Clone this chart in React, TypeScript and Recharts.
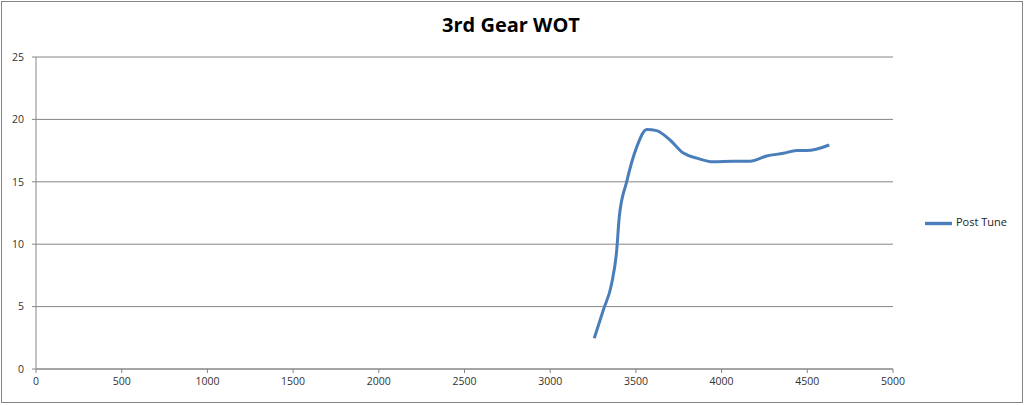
import { CartesianGrid, Legend, Line, LineChart, XAxis, YAxis } from 'recharts'

const rpm = [3257, 3310, 3359, 3388, 3403, 3446, 3505, 3563, 3621, 3699, 3777, 3855, 3952, 4069, 4166, 4263, 4360, 4438, 4497, 4628]
const postTune = [2.46, 4.73, 6.87, 9.5, 12.2, 15.0, 17.8, 19.2, 19.1, 18.35, 17.3, 16.9, 16.6, 16.65, 16.65, 17.07, 17.28, 17.5, 17.5, 17.95]
const xTicks = [0, 500, 1000, 1500, 2000, 2500, 3000, 3500, 4000, 4500, 5000]
const yTicks = [0, 5, 10, 15, 20, 25]

const data = rpm.map((r, i) => ({ rpm: r, postTune: postTune[i] }))

const axisGray = '#868686'
const tickStyle = { fontSize: 10.5, fill: '#333', fontFamily: '"Open Sans", sans-serif' }

export default function App() {
  return (
    <div style={{ position: 'absolute', left: 0, top: 0, width: 1024, height: 405, background: '#fff' }}>
      <div
        style={{
          position: 'absolute',
          left: 1,
          top: 1,
          width: 1020,
          height: 400,
          border: `1px solid ${axisGray}`,
          pointerEvents: 'none',
        }}
      />
      <div
        style={{
          position: 'absolute',
          left: 0,
          top: 11,
          width: 1022,
          textAlign: 'center',
          fontFamily: '"Open Sans", sans-serif',
          fontWeight: 700,
          fontSize: 20,
          color: '#000',
        }}
      >
        3rd Gear WOT
      </div>
      <LineChart width={1024} height={405} data={data} margin={{ top: 57, right: 131, left: 0, bottom: 0 }}>
        <CartesianGrid vertical={false} stroke={axisGray} />
        <XAxis
          dataKey="rpm"
          type="number"
          domain={[0, 5000]}
          ticks={xTicks}
          height={36}
          stroke={axisGray}
          tickSize={4}
          tickMargin={5}
          tick={tickStyle}
          interval={0}
        />
        <YAxis
          type="number"
          domain={[0, 25]}
          ticks={yTicks}
          width={36}
          stroke={axisGray}
          tickSize={4}
          tickMargin={8}
          tick={tickStyle}
          interval={0}
        />
        <Legend
          layout="horizontal"
          verticalAlign="middle"
          align="center"
          iconSize={27}
          wrapperStyle={{
            left: 921,
            top: 210,
            width: 100,
            textAlign: 'left',
            fontFamily: '"Open Sans", sans-serif',
            fontSize: 11,
          }}
          formatter={(value) => <span style={{ color: '#222' }}>{value}</span>}
        />
        <Line
          type="monotone"
          dataKey="postTune"
          name="Post Tune"
          stroke="#4a7ebb"
          strokeWidth={3}
          dot={false}
          legendType="plainline"
          isAnimationActive={false}
        />
      </LineChart>
    </div>
  )
}
